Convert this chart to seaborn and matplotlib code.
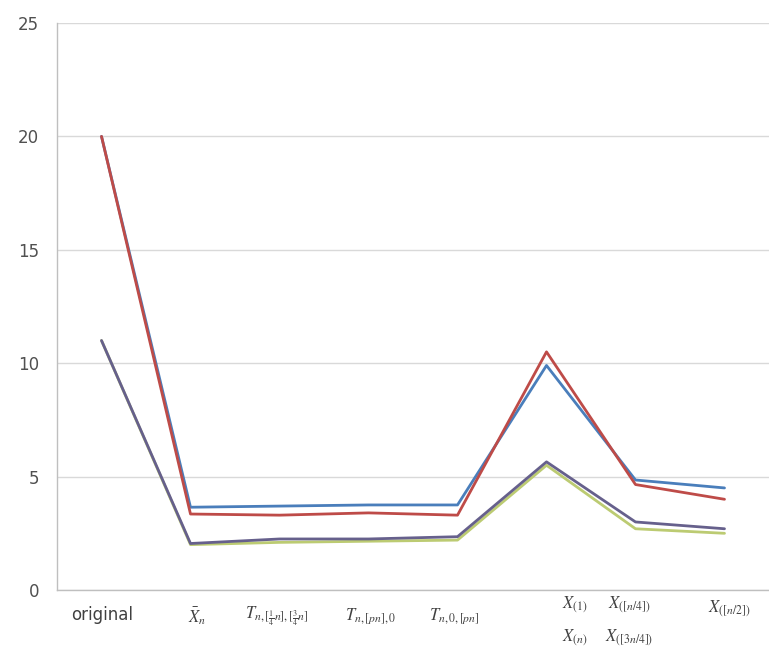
import numpy as np
import pandas as pd
import matplotlib
matplotlib.use("Agg")
import matplotlib.pyplot as plt
import seaborn as sns

# Estimator labels along the x axis (first line, optional second line)
labels_top = ["original", r"$\bar{X}_n$", r"$T_{n,[\frac{1}{4}n],[\frac{3}{4}n]}$",
              r"$T_{n,[pn],0}$", r"$T_{n,0,[pn]}$", r"$X_{(1)}$",
              r"$X_{([n/4])}$", r"$X_{([n/2])}$"]
labels_bottom = ["", "", "", "", "", r"$X_{(n)}$", r"$X_{([3n/4])}$", ""]

# Four series of values per estimator
series_a = [20.0, 3.65, 3.70, 3.75, 3.75, 9.9, 4.85, 4.5]
series_b = [20.0, 3.35, 3.30, 3.40, 3.30, 10.5, 4.65, 4.0]
series_c = [11.0, 2.05, 2.25, 2.25, 2.35, 5.65, 3.0, 2.7]
series_d = [11.0, 2.00, 2.10, 2.15, 2.20, 5.5, 2.7, 2.5]

names = ["a", "b", "c", "d"]
colors = {"a": "#4a7ebb", "b": "#be4b48", "c": "#66608c", "d": "#bccb72"}

idx = np.arange(len(labels_top))
df = pd.concat([
    pd.DataFrame({"pos": idx, "value": vals, "series": n})
    for n, vals in zip(names, [series_a, series_b, series_c, series_d])
])

sns.set_style("white")
plt.rcParams["mathtext.fontset"] = "stix"
fig = plt.figure(figsize=(7.69, 6.54), dpi=100)
ax = fig.add_axes([57 / 769, 1 - 590 / 654, 712 / 769, (590 - 23) / 654])

# draw order: lower pair, then upper pair, later series on top
for n in ["d", "c", "a", "b"]:
    sns.lineplot(data=df[df.series == n], x="pos", y="value", color=colors[n],
                 linewidth=2.0, ax=ax, legend=False, zorder=3)

ax.set_ylim(0, 25)
ax.set_xlim(-0.5, 7.455)
ax.set_yticks(np.arange(0, 26, 5))
ax.set_yticklabels([str(v) for v in range(0, 26, 5)], fontsize=12, color="#505050")
ax.yaxis.grid(True, color="#d9d9d9", linewidth=1.0)
ax.set_axisbelow(True)

# category boundaries carry the tick marks
ax.set_xticks(np.arange(-0.5, 8, 1.0))
ax.set_xticklabels([])
ax.tick_params(axis="x", length=5, color="#bfbfbf", direction="out")
ax.tick_params(axis="y", length=5, color="#bfbfbf", direction="out", pad=8)
ax.set_xlabel("")
ax.set_ylabel("")

for s in ["top", "right"]:
    ax.spines[s].set_visible(False)
for s in ["left", "bottom"]:
    ax.spines[s].set_color("#bfbfbf")
    ax.spines[s].set_linewidth(1.0)

# category label positions (x in data units, y in axes fraction)
label_x = [0.01, 1.07, 1.97, 3.02, 3.96, 5.32, 5.93, 7.05]
label_y = [-0.044, -0.046, -0.046, -0.046, -0.046, -0.027, -0.027, -0.034]
trans = ax.get_xaxis_transform()
for i, (t, b) in enumerate(zip(labels_top, labels_bottom)):
    fs = 12 if i == 0 else 12
    ax.text(label_x[i], label_y[i], t, transform=trans, ha="center", va="center",
            fontsize=fs, color="#404040", family="DejaVu Sans")
    if b:
        ax.text(label_x[i], -0.085, b, transform=trans, ha="center", va="center",
                fontsize=12, color="#404040")

fig.savefig("out.png", dpi=100)
